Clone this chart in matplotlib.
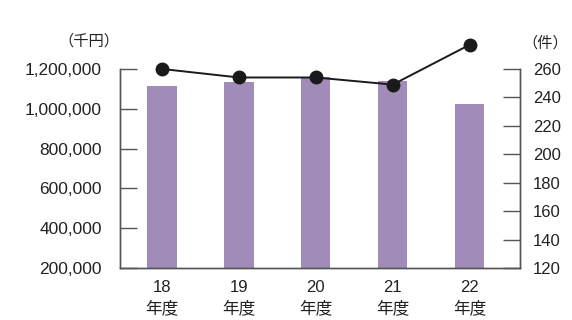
import matplotlib
matplotlib.use("Agg")
import matplotlib.pyplot as plt
from matplotlib.ticker import FuncFormatter

# data
years = ["18", "19", "20", "21", "22"]
amounts = [1115000, 1136000, 1158000, 1141000, 1023000]   # 千円 (bars)
counts = [260, 254, 254, 249, 277]                         # 件 (line)

left_ticks = [200000, 400000, 600000, 800000, 1000000, 1200000]
right_ticks = [120, 140, 160, 180, 200, 220, 240, 260]

fams = ["Liberation Sans", "Noto Sans CJK JP", "DejaVu Sans"]
plt.rcParams["font.family"] = fams
text_col = "#222222"
spine_col = "#555555"

fig = plt.figure(figsize=(5.72, 3.2), dpi=100)
ax = fig.add_axes([0.2098, 0.1625, 0.6993, 0.622])
ax2 = ax.twinx()

x = list(range(len(years)))
ax.bar(x, amounts, width=0.38, color="#a18cb9", zorder=1)
ax.set_ylim(200000, 1200000)
ax.set_xlim(-0.546, 4.655)
ax.set_yticks(left_ticks)
ax.yaxis.set_major_formatter(FuncFormatter(lambda v, p: f"{int(v):,}"))
ax.set_xticks(x)
ax.set_xticklabels([f"{y}\n年度" for y in years], fontsize=12, color=text_col,
                   linespacing=1.4)
ax.tick_params(axis="x", length=0, pad=8.5)
ax.tick_params(axis="y", direction="in", length=12, width=1, color=spine_col,
               labelsize=12.5, labelcolor=text_col, pad=13)

ax2.plot(x, counts, color="#1a1a1a", lw=1.4, marker="o", markersize=9,
         clip_on=False, zorder=3)
ax2.set_ylim(120, 260)
ax2.set_yticks(right_ticks)
ax2.tick_params(axis="y", direction="in", length=12, width=1, color=spine_col,
                labelsize=12, labelcolor=text_col, pad=9.5)

for a in (ax, ax2):
    a.spines["top"].set_visible(False)
    for s in ("left", "right", "bottom"):
        a.spines[s].set_color(spine_col)
        a.spines[s].set_linewidth(1)

fig.text(0.208, 0.87, "（千円）", ha="right", va="center", fontsize=11,
         color=text_col)
fig.text(0.993, 0.865, "（件）", ha="right", va="center", fontsize=11,
         color=text_col)

fig.savefig("out.png", dpi=100)
